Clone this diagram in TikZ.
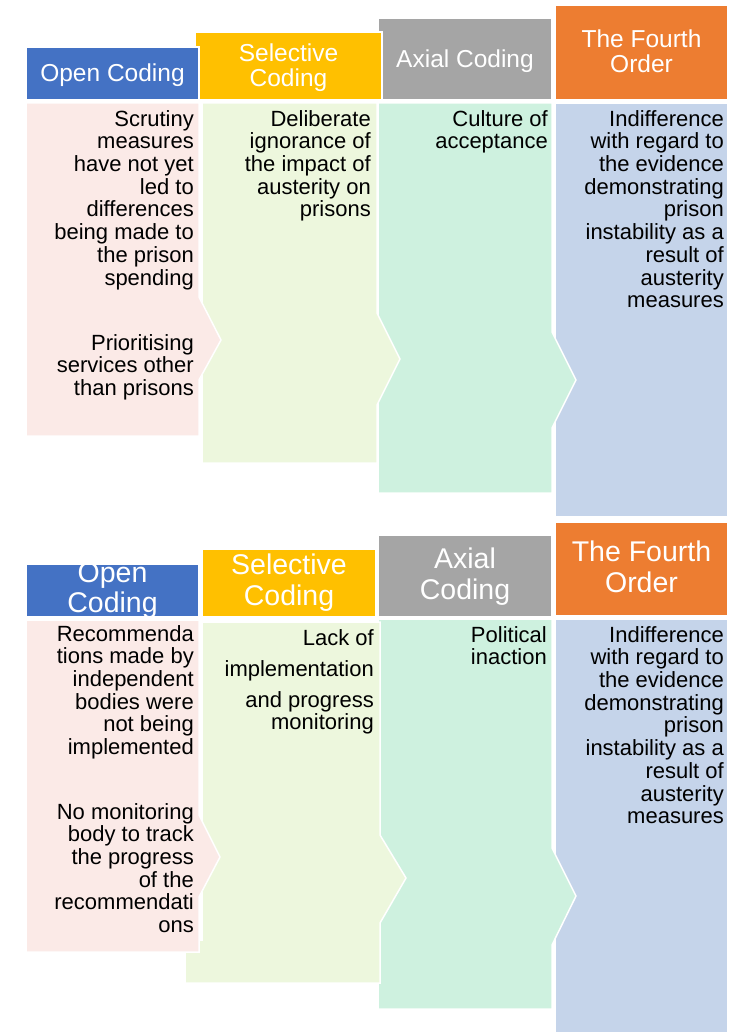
\documentclass[tikz,border=0pt]{standalone}
\usepackage{fontspec}
\setmainfont{Liberation Sans}
\definecolor{openblue}{HTML}{4472C4}
\definecolor{selyellow}{HTML}{FFC000}
\definecolor{axialgray}{HTML}{A5A5A5}
\definecolor{fourthorange}{HTML}{ED7D31}
\definecolor{openpink}{HTML}{FBEAE7}
\definecolor{selgreen}{HTML}{EDF7DD}
\definecolor{axialmint}{HTML}{CEF1DF}
\definecolor{fourthblue}{HTML}{C5D4EA}
\tikzset{
panel/.style={draw=white,line width=1.5pt,line join=miter},
head text/.style={text=white,align=center,anchor=north,inner sep=0pt,font=\fontsize{24.5}{25}\selectfont},
big head/.style={head text,font=\fontsize{28.5}{30.5}\selectfont},
body text/.style={text=black,align=right,anchor=north east,inner sep=0pt,font=\fontsize{22}{22.7}\selectfont}}

\begin{document}
\begin{tikzpicture}[x=1pt,y=-1pt]
\useasboundingbox (0,0) rectangle (738,1032);

% upper chart
\filldraw[panel,fill=fourthblue] (555,103) rectangle (728,517);
\filldraw[panel,fill=fourthorange] (555,5) rectangle (728,100);
\filldraw[panel,fill=axialmint] (378,103) -- (552,103) -- (552,332) -- (576,380) -- (552,428) -- (552,493) -- (378,493) -- cycle;
\filldraw[panel,fill=axialgray] (378,18) rectangle (552,100);
\filldraw[panel,fill=selgreen] (202,103) -- (377,103) -- (377,313) -- (400,359) -- (377,405) -- (377,463) -- (202,463) -- cycle;
\filldraw[panel,fill=selyellow] (195,32) rectangle (382,100);
\filldraw[panel,fill=openpink] (26,103) -- (199,103) -- (199,297) -- (221,340) -- (199,380) -- (199,436) -- (26,436) -- cycle;
\filldraw[panel,fill=openblue] (26,47) rectangle (199,100);

\node[head text] (o1) at (112.5,64) {Open Coding};
\node[head text] (s1) at (288.5,44) {Selective\\Coding};
\node[head text] (a1) at (465,50) {Axial Coding};
\node[head text] (f1) at (641.5,30) {The Fourth\\Order};

\node[body text] (o1a) at (194,110) {Scrutiny\\measures\\have not yet\\led to\\differences\\being made to\\the prison\\spending};
\node[body text] (o1b) at (194,334) {Prioritising\\services other\\than prisons};
\node[body text] (s1a) at (371,110) {Deliberate\\ignorance of\\the impact of\\austerity on\\prisons};
\node[body text] (a1a) at (548,110) {Culture of\\acceptance};
\node[body text] (f1a) at (724,110) {Indifference\\with regard to\\the evidence\\demonstrating\\prison\\instability as a\\result of\\austerity\\measures};

% lower chart
\filldraw[panel,fill=fourthblue] (555,619) rectangle (728,1040);
\filldraw[panel,fill=fourthorange] (555,522) rectangle (728,616);
\filldraw[panel,fill=axialmint] (378,619) -- (552,619) -- (552,848) -- (576,896) -- (552,945) -- (552,1009) -- (378,1009) -- cycle;
\filldraw[panel,fill=axialgray] (378,535) rectangle (552,617);
\filldraw[panel,fill=selgreen] (202,622) -- (380,622) -- (380,835) -- (406,878) -- (380,923) -- (380,983) -- (185,983) -- (185,940) -- (202,940) -- cycle;
\filldraw[panel,fill=selyellow] (202,549) rectangle (376,617);
\filldraw[panel,fill=openpink] (26,620) -- (199,620) -- (199,815) -- (220,857) -- (199,897) -- (199,952) -- (26,952) -- cycle;
\filldraw[panel,fill=openblue] (26,564) rectangle (199,617);

\begin{scope}
\clip (26,564) rectangle (199,617);
\node[big head] (o2) at (112.5,562) {Open\\Coding};
\end{scope}
\node[big head] (s2) at (289,554) {Selective\\Coding};
\node[big head] (a2) at (465,548) {Axial\\Coding};
\node[big head] (f2) at (641.5,541) {The Fourth\\Order};

\node[body text] (o2a) at (194,625) {Recommenda\\tions made by\\independent\\bodies were\\not being\\implemented};
\node[body text] (o2b) at (194,803) {No monitoring\\body to track\\the progress\\of the\\recommendati\\ons};
\node[body text] (s2a) at (374,629) {Lack of\\[8.3pt]implementation\\[8.3pt]and progress\\monitoring};
\node[body text] (a2a) at (547,626) {Political\\inaction};
\node[body text] (f2a) at (724,626) {Indifference\\with regard to\\the evidence\\demonstrating\\prison\\instability as a\\result of\\austerity\\measures};
\end{tikzpicture}
\end{document}
